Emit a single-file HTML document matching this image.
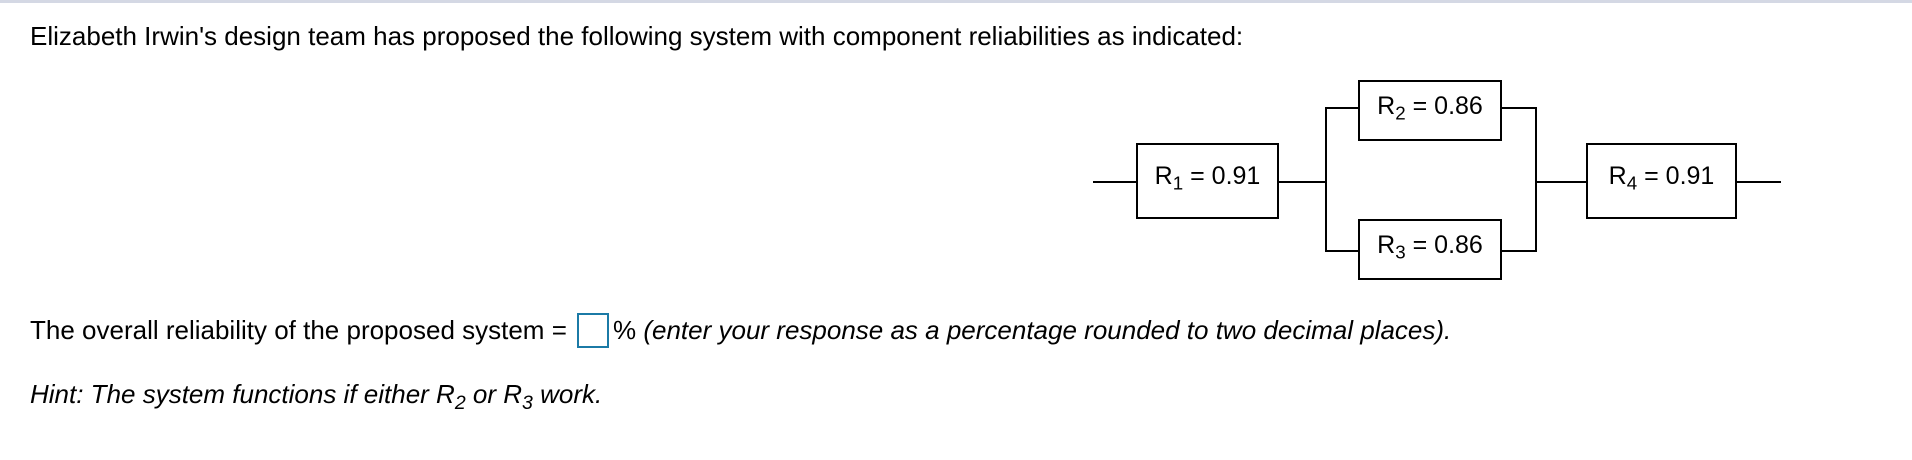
<!DOCTYPE html>
<html><head><meta charset="utf-8"><style>
html,body{margin:0;padding:0;background:#fff;}
body{width:1912px;height:460px;position:relative;overflow:hidden;font-family:"Liberation Sans",Arial,sans-serif;color:#000;}
.t{position:absolute;white-space:nowrap;font-size:26px;line-height:1;}
.box{position:absolute;border:2px solid #000;box-sizing:border-box;background:#fff;font-size:25px;display:flex;align-items:center;justify-content:center;white-space:nowrap;padding-bottom:9px;}
.h{position:absolute;height:2px;background:#000;}
.v{position:absolute;width:2px;background:#000;}
sub{font-size:0.75em;vertical-align:-0.3em;line-height:0;}
</style></head><body>
<div style="position:absolute;left:0;top:0;width:1912px;height:3px;background:#d4d8e4;"></div>
<div class="t" style="left:30px;top:23px;">Elizabeth Irwin's design team has proposed the following system with component reliabilities as indicated:</div>

<div class="h" style="left:1093px;top:181px;width:44px;"></div>
<div class="h" style="left:1278px;top:181px;width:48px;"></div>
<div class="v" style="left:1325px;top:107px;height:145px;"></div>
<div class="h" style="left:1325px;top:107px;width:34px;"></div>
<div class="h" style="left:1325px;top:250px;width:34px;"></div>
<div class="h" style="left:1500px;top:107px;width:37px;"></div>
<div class="h" style="left:1500px;top:250px;width:37px;"></div>
<div class="v" style="left:1535px;top:107px;height:145px;"></div>
<div class="h" style="left:1535px;top:181px;width:52px;"></div>
<div class="h" style="left:1735px;top:181px;width:46px;"></div>

<div class="box" style="left:1136px;top:143px;width:143px;height:76px;"><span>R<sub>1</sub> = 0.91</span></div>
<div class="box" style="left:1358px;top:80px;width:144px;height:61px;"><span>R<sub>2</sub> = 0.86</span></div>
<div class="box" style="left:1358px;top:219px;width:144px;height:61px;"><span>R<sub>3</sub> = 0.86</span></div>
<div class="box" style="left:1586px;top:143px;width:151px;height:76px;"><span>R<sub>4</sub> = 0.91</span></div>

<div class="t" style="left:30px;top:317px;">The overall reliability of the proposed system =</div>
<div style="position:absolute;left:577px;top:313px;width:32px;height:35px;border:2px solid #1b7aa6;box-sizing:border-box;"></div>
<div class="t" style="left:613px;top:317px;">% <i>(enter your response as a percentage rounded to two decimal places).</i></div>
<div class="t" style="left:30px;top:381px;font-style:italic;">Hint: The system functions if either R<sub>2</sub> or R<sub>3</sub> work.</div>
</body></html>
